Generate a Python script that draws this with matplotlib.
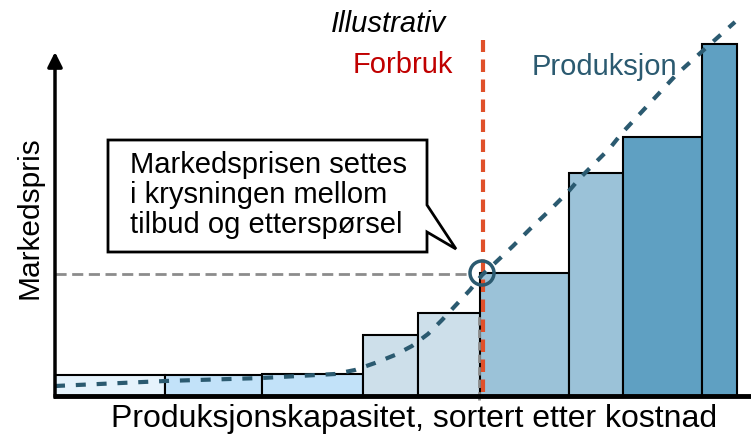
'''
Merit order: markedsprisen settes i krysningen mellom tilbud og etterspørsel
'''

import matplotlib
matplotlib.use('Agg')
from matplotlib import pyplot as plt
from matplotlib.patches import Polygon, Circle, FancyArrowPatch

plt.rcParams['font.family'] = ['Liberation Sans', 'DejaVu Sans']

# kapasitet (bredde) og pris (hoyde) for hver produksjonsblokk, sortert etter kostnad
bar_start = [0, 110, 207, 308, 363, 425, 514, 568, 647]
bar_width = [110, 97, 101, 55, 62, 89, 54, 79, 35]
bar_price = [21, 21, 22, 61, 83, 123, 223, 259, 352]
bar_colors = ['#e6f3fc', '#c2e2f9', '#c2e2f9', '#cddfea', '#cddfea',
              '#9bc2d8', '#9bc2d8', '#5fa0c2', '#5fa0c2']

# produksjonskurve (tilbud)
supply_x = [0, 110, 207, 280, 300, 320, 340, 357, 373, 387, 400, 415, 427,
            440, 458, 475, 495, 513, 525, 540, 555, 567, 595, 622, 652, 680]
supply_y = [10, 15, 18, 22, 26, 33, 41, 50, 62, 76, 90, 106, 121,
            133, 150, 167, 186, 204, 218, 233, 248, 263, 293, 322, 349, 374]

# forbruk og likevekt
demand_x = 428
eq_x, eq_y = 427, 123

dark = '#2b5a70'


def draw_chart():
    fig = plt.figure(figsize=(7.51, 4.34), dpi=100)
    ax = fig.add_axes([0, 0, 1, 1])
    ax.set_xlim(-55, 696)
    ax.set_ylim(-38, 396)
    ax.axis('off')

    ax.bar(bar_start, bar_price, width=bar_width, align='edge',
           color=bar_colors, edgecolor='black', linewidth=1.5, zorder=2)

    # hjelpelinjer til krysningspunktet
    ax.plot([0, eq_x - 12], [eq_y - 1, eq_y - 1], color='#8c8c8c', lw=2,
            dashes=(4, 2), zorder=1)
    ax.plot([bar_start[5] - 1, bar_start[5] - 1], [-4, bar_price[4]],
            color='#8c8c8c', lw=2, dashes=(3, 1.5), zorder=3)

    ax.plot([demand_x, demand_x], [4, 356], color='#e0502a', lw=3,
            dashes=(3, 1.8), zorder=4)
    ax.plot(supply_x, supply_y, color=dark, lw=3, dashes=(2.4, 2.6), zorder=5)
    ax.add_patch(Circle((eq_x, eq_y), 12, fill=False, edgecolor=dark,
                        lw=2.5, zorder=6))

    # akser
    ax.plot([-2, 696], [0, 0], color='black', lw=3.5, solid_capstyle='butt',
            zorder=7)
    ax.add_patch(FancyArrowPatch((0, -1), (0, 344), arrowstyle='-|>',
                                 mutation_scale=22, color='black', lw=2.5,
                                 shrinkA=0, shrinkB=0, zorder=7))

    # snakkeboble
    bubble = [(53, 256), (372, 256), (372, 191), (401, 147), (372, 164),
              (372, 144), (53, 144)]
    ax.add_patch(Polygon(bubble, closed=True, facecolor='white',
                         edgecolor='black', lw=2, zorder=8))
    ax.text(75, 201, 'Markedsprisen settes\ni krysningen mellom\ntilbud og etterspørsel',
            fontsize=21, ha='left', va='center', linespacing=1.08, zorder=9)

    ax.text(334, 364, 'Illustrativ', fontsize=21, style='italic',
            ha='center', va='baseline')
    ax.text(348, 323, 'Forbruk', fontsize=21, color='#c00000',
            ha='center', va='baseline')
    ax.text(549, 321, 'Produksjon', fontsize=21, color=dark,
            ha='center', va='baseline')
    ax.text(-25, 178, 'Markedspris', fontsize=21.5, rotation=90,
            ha='center', va='center')
    ax.text(359, -31, 'Produksjonskapasitet, sortert etter kostnad',
            fontsize=23, ha='center', va='baseline')

    fig.savefig('out.png', dpi=100)


if __name__ == '__main__':
    draw_chart()
